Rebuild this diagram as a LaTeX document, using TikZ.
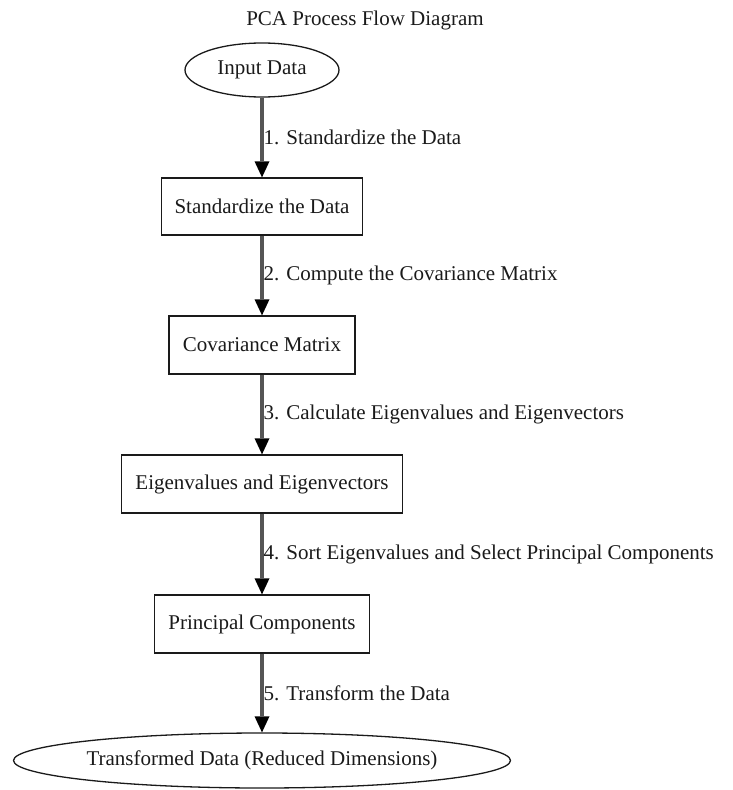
\documentclass[tikz,border=0pt]{standalone}
\usepackage{fontspec}
\setmainfont{Liberation Serif}
\usepackage{tikz}
\usetikzlibrary{arrows.meta,shapes.geometric}
\definecolor{ink}{HTML}{1A1A1A}
\definecolor{wire}{HTML}{555555}
\tikzset{
  stepbox/.style={draw=ink, line width=1.3pt, rectangle, inner sep=0pt, minimum height=57pt, text=ink},
  term/.style={draw=ink, line width=1.3pt, ellipse, inner sep=0pt, text=ink},
  flow/.style={draw=wire, line width=3.2pt, -{Triangle[length=16pt,width=15pt,fill=black,line width=0pt]}},
  elab/.style={anchor=west, inner sep=0pt, text=ink},
}

\begin{document}
\begin{tikzpicture}[x=1pt,y=-1pt,font=\fontsize{21}{25}\selectfont]
  \useasboundingbox (0,0) rectangle (733,790);

  \node[text=ink] (title) at (365,20) {PCA Process Flow Diagram};

  \node[term, minimum width=154pt, minimum height=54pt] (input) at (262,70) {Input Data};
  \node[stepbox, minimum width=201pt] (stddata) at (262,206.5) {Standardize the Data};
  \node[stepbox, minimum width=186pt, minimum height=58pt] (covmat) at (262,345) {Covariance Matrix};
  \node[stepbox, minimum width=281pt, minimum height=58pt] (eigen) at (262,484) {Eigenvalues and Eigenvectors};
  \node[stepbox, minimum width=215pt, minimum height=58pt] (pcs) at (262,624) {Principal Components};
  \node[term, minimum width=497pt, minimum height=55pt] (reduced) at (262,760.5) {Transformed Data (Reduced Dimensions)};

  \draw[flow] (input) -- node[elab] {1. Standardize the Data} (stddata);
  \draw[flow] (stddata) -- node[elab] {2. Compute the Covariance Matrix} (covmat);
  \draw[flow] (covmat) -- node[elab] {3. Calculate Eigenvalues and Eigenvectors} (eigen);
  \draw[flow] (eigen) -- node[elab] {4. Sort Eigenvalues and Select Principal Components} (pcs);
  \draw[flow] (pcs) -- node[elab] {5. Transform the Data} (reduced);
\end{tikzpicture}
\end{document}
